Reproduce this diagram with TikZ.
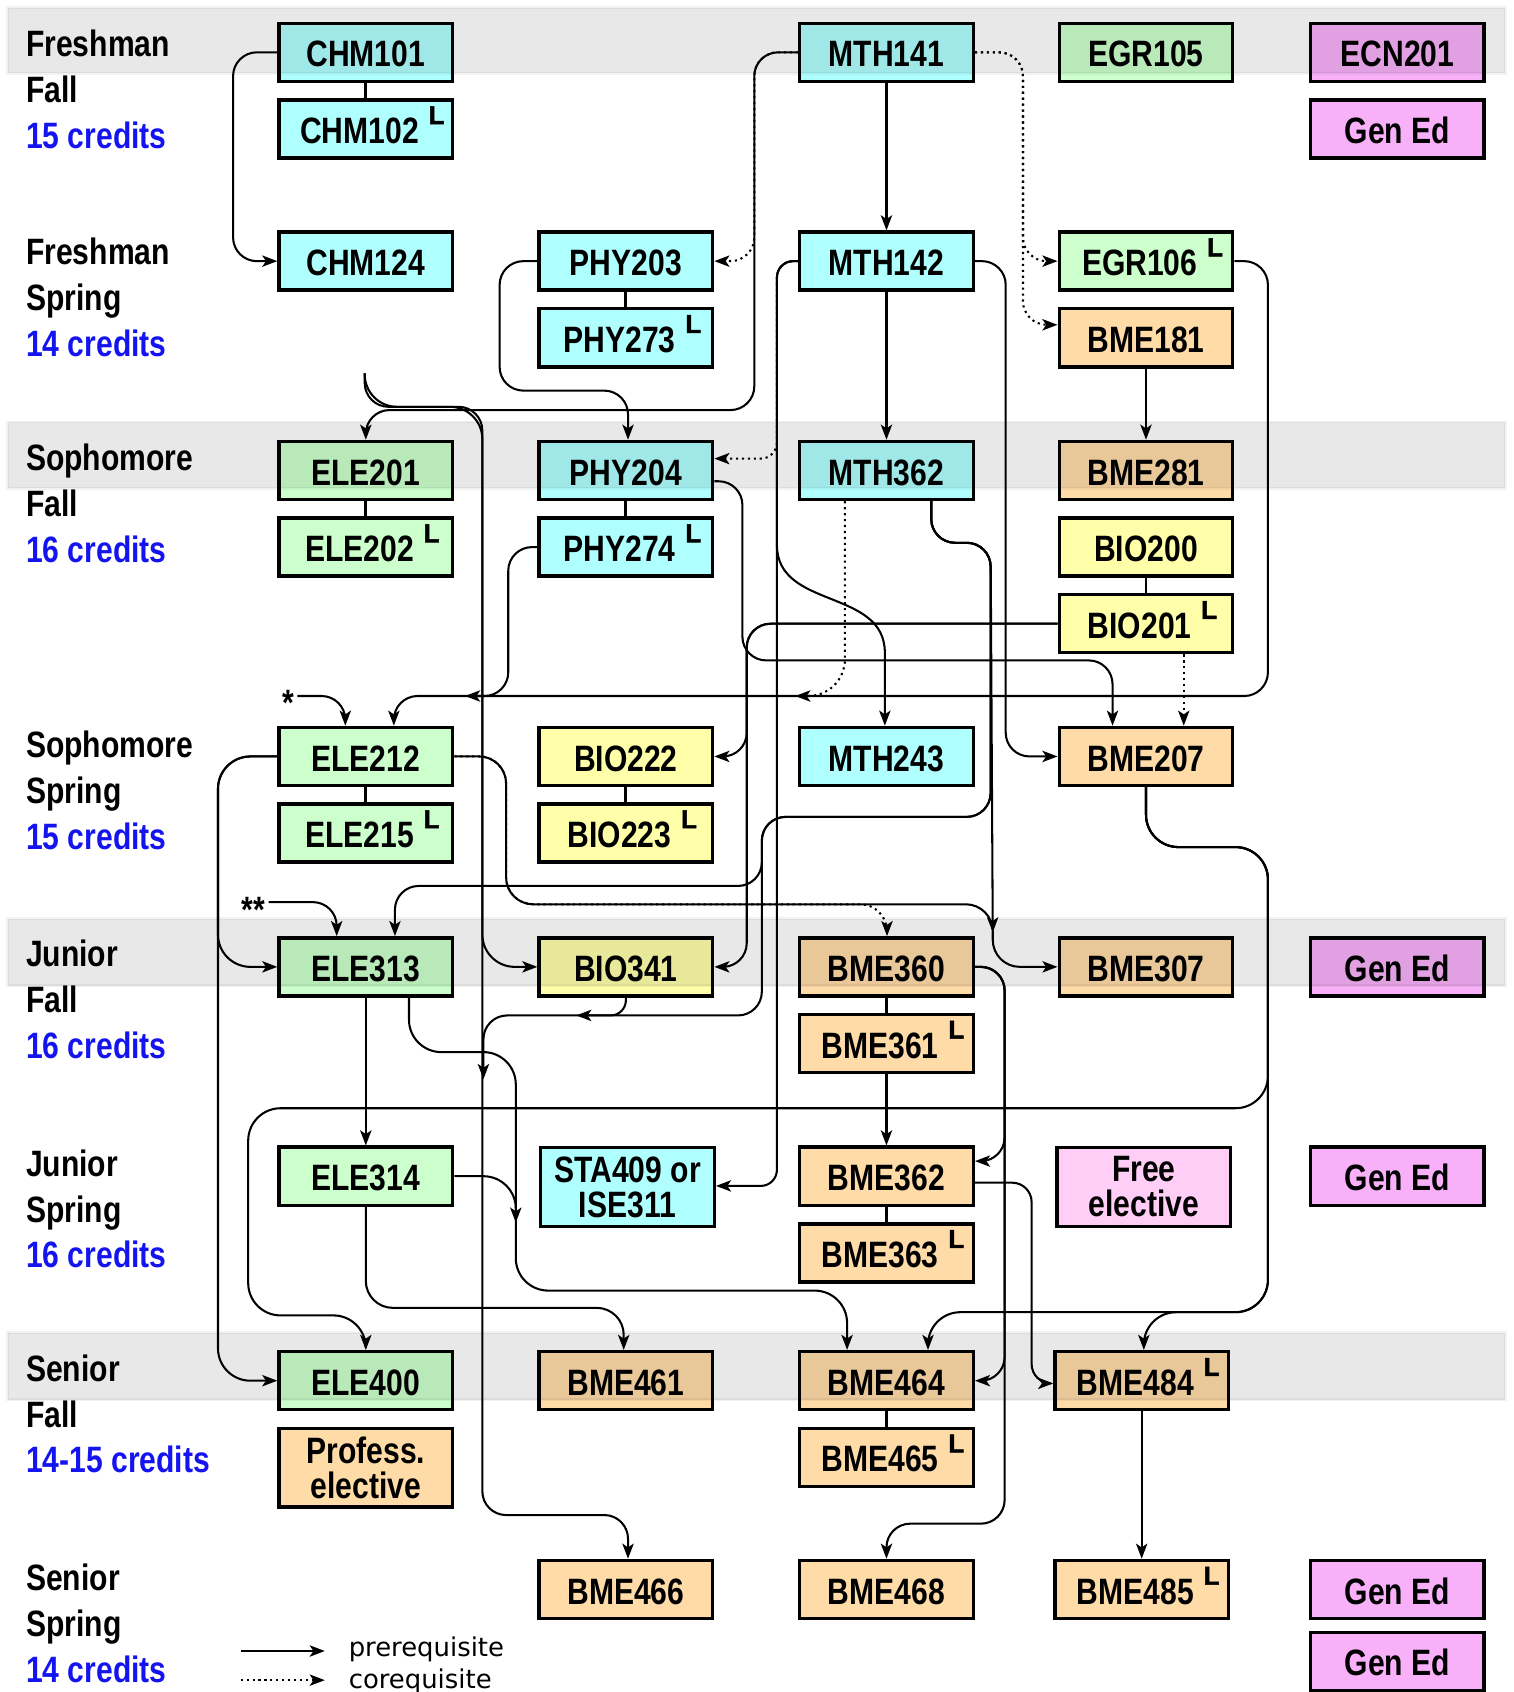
\documentclass[tikz,border=0pt]{standalone}
\usepackage{fontspec}
\setmainfont{Liberation Sans}[FakeStretch=0.82]
\newfontfamily\labfont{Liberation Sans Bold}[FakeBold=2]
\newfontfamily\keyfont{DejaVu Sans}
\usetikzlibrary{positioning}
\usetikzlibrary{arrows.meta}
\definecolor{boxcyan}{HTML}{B0FFFF}
\definecolor{boxgreen}{HTML}{CCFFCC}
\definecolor{boxyellow}{HTML}{FFFFAA}
\definecolor{boxorange}{HTML}{FFDBA8}
\definecolor{boxpink}{HTML}{F8B0F8}
\definecolor{boxfree}{HTML}{FFCEF6}
\definecolor{credit}{HTML}{1414F0}
\newcommand{\coursefont}{\fontsize{34}{32.5}\selectfont\bfseries}
\newcommand{\semfont}{\fontsize{34}{42.5}\selectfont\bfseries}
\newcommand{\labL}[1]{\hspace{12pt}#1\hspace{9pt}\raisebox{18pt}{\labfont\fontsize{24}{24}\selectfont L}}
\tikzset{
  coursebase/.style = {draw, line width=3.2pt, minimum width=160.8pt,
    inner sep=0pt, font=\coursefont},
  course/.style = {coursebase, minimum height=53.8pt,
    text height=27pt, text depth=0pt},
  twoline/.style = {coursebase, minimum height=72.8pt, align=center},
  cyanfill/.style = {fill=boxcyan},
  greenfill/.style = {fill=boxgreen},
  yellowfill/.style = {fill=boxyellow},
  orangefill/.style = {fill=boxorange},
  pinkfill/.style = {fill=boxpink},
  freefill/.style = {fill=boxfree},
  joinline/.style = {line width=1.9pt, rounded corners=22pt},
  prereq/.style = {joinline, ->},
  coreq/.style = {prereq, dash pattern=on 2pt off 3.5pt},
  pair/.style = {line width=2.6pt},
  band/.style = {fill=black, fill opacity=0.09, draw=black,
    draw opacity=0.05, line width=2.5pt},
  sem/.style = {anchor=base west, inner sep=0pt, font=\semfont},
  starlabel/.style = {anchor=base, inner sep=3pt, font=\semfont},
  legendtext/.style = {anchor=base west, inner sep=0pt,
    font=\keyfont\fontsize{24}{24}\selectfont}
}
\tikzset{>={Stealth[length=14pt,width=10.5pt,inset=3.5pt]}}

\begin{document}
\begin{tikzpicture}[x=1pt,y=-1pt]
  \useasboundingbox (0,0) rectangle (1403,1568);
  \pgfmathsetmacro{\colA}{339}
  \pgfmathsetmacro{\colB}{580}
  \pgfmathsetmacro{\colC}{821.5}
  \pgfmathsetmacro{\colD}{1062}
  \pgfmathsetmacro{\colE}{1295}
  \pgfmathsetmacro{\rowA}{48.5}
  \pgfmathsetmacro{\rowB}{242}
  \pgfmathsetmacro{\rowC}{436}
  \pgfmathsetmacro{\rowD}{701}
  \pgfmathsetmacro{\rowE}{896}
  \pgfmathsetmacro{\rowF}{1090}
  \pgfmathsetmacro{\rowG}{1279.5}
  \pgfmathsetmacro{\rowH}{1473}
  % semester labels
  \node[sem] (t1) at (24,52.5) {\begin{tabular}[t]{@{}l@{}}Freshman\\Fall\\\textcolor{credit}{15 credits}\end{tabular}};
  \node[sem] (t2) at (24,245.5) {\begin{tabular}[t]{@{}l@{}}Freshman\\Spring\\\textcolor{credit}{14 credits}\end{tabular}};
  \node[sem] (t3) at (24,436) {\begin{tabular}[t]{@{}l@{}}Sophomore\\Fall\\\textcolor{credit}{16 credits}\end{tabular}};
  \node[sem] (t4) at (24,702) {\begin{tabular}[t]{@{}l@{}}Sophomore\\Spring\\\textcolor{credit}{15 credits}\end{tabular}};
  \node[sem] (t5) at (24,896) {\begin{tabular}[t]{@{}l@{}}Junior\\Fall\\\textcolor{credit}{16 credits}\end{tabular}};
  \node[sem] (t6) at (24,1090) {\begin{tabular}[t]{@{}l@{}}Junior\\Spring\\\textcolor{credit}{16 credits}\end{tabular}};
  \node[sem] (t7) at (24,1280) {\begin{tabular}[t]{@{}l@{}}Senior\\Fall\\\textcolor{credit}{14-15 credits}\end{tabular}};
  \node[sem] (t8) at (24,1474) {\begin{tabular}[t]{@{}l@{}}Senior\\Spring\\\textcolor{credit}{14 credits}\end{tabular}};
  % freshman fall
  \node[course, cyanfill] (chm101) at (\colA,\rowA) {CHM101};
  \node[course, cyanfill, below=14pt of chm101] (chm102) {\labL{CHM102}};
  \node[course, cyanfill] (mth141) at (\colC,\rowA) {MTH141};
  \node[course, greenfill] (egr105) at (\colD,\rowA) {EGR105};
  \node[course, pinkfill] (ecn201) at (\colE,\rowA) {ECN201};
  \node[course, pinkfill, below=14pt of ecn201] (gened1) {Gen Ed};
  % freshman spring
  \node[course, cyanfill] (chm124) at (\colA,\rowB) {CHM124};
  \node[course, cyanfill] (phy203) at (\colB,\rowB) {PHY203};
  \node[course, cyanfill, below=14pt of phy203] (phy273) {\labL{PHY273}};
  \node[course, cyanfill] (mth142) at (\colC,\rowB) {MTH142};
  \node[course, greenfill] (egr106) at (\colD,\rowB) {\labL{EGR106}};
  \node[course, orangefill, below=14pt of egr106] (bme181) {BME181};
  % sophomore fall
  \node[course, greenfill] (ele201) at (\colA,\rowC) {ELE201};
  \node[course, greenfill, below=14pt of ele201] (ele202) {\labL{ELE202}};
  \node[course, cyanfill] (phy204) at (\colB,\rowC) {PHY204};
  \node[course, cyanfill, below=14pt of phy204] (phy274) {\labL{PHY274}};
  \node[course, cyanfill] (mth362) at (\colC,\rowC) {MTH362};
  \node[course, orangefill] (bme281) at (\colD,\rowC) {BME281};
  \node[course, yellowfill, below=14pt of bme281] (bio200) {BIO200};
  \node[course, yellowfill, below=14pt of bio200] (bio201) {\labL{BIO201}};
  % sophomore spring
  \node[course, greenfill] (ele212) at (\colA,\rowD) {ELE212};
  \node[course, greenfill, below=14pt of ele212] (ele215) {\labL{ELE215}};
  \node[course, yellowfill] (bio222) at (\colB,\rowD) {BIO222};
  \node[course, yellowfill, below=14pt of bio222] (bio223) {\labL{BIO223}};
  \node[course, cyanfill] (mth243) at (\colC,\rowD) {MTH243};
  \node[course, orangefill] (bme207) at (\colD,\rowD) {BME207};
  % junior fall
  \node[course, greenfill] (ele313) at (\colA,\rowE) {ELE313};
  \node[course, yellowfill] (bio341) at (\colB,\rowE) {BIO341};
  \node[course, orangefill] (bme360) at (\colC,\rowE) {BME360};
  \node[course, orangefill, below=14pt of bme360] (bme361) {\labL{BME361}};
  \node[course, orangefill] (bme307) at (\colD,\rowE) {BME307};
  \node[course, pinkfill] (gened2) at (\colE,\rowE) {Gen Ed};
  % junior spring
  \node[course, greenfill] (ele314) at (\colA,\rowF) {ELE314};
  \node[twoline, cyanfill] (sta409) at (581.5,1100) {STA409 or\\ISE311};
  \node[course, orangefill] (bme362) at (\colC,\rowF) {BME362};
  \node[course, orangefill, below=14pt of bme362] (bme363) {\labL{BME363}};
  \node[twoline, freefill] (free) at (1060,1100) {Free\\elective};
  \node[course, pinkfill] (gened3) at (\colE,\rowF) {Gen Ed};
  % senior fall
  \node[course, greenfill] (ele400) at (\colA,\rowG) {ELE400};
  \node[twoline, orangefill, below=14pt of ele400] (prof) {Profess.\\elective};
  \node[course, orangefill] (bme461) at (\colB,\rowG) {BME461};
  \node[course, orangefill] (bme464) at (\colC,\rowG) {BME464};
  \node[course, orangefill, below=14pt of bme464] (bme465) {\labL{BME465}};
  \node[course, orangefill] (bme484) at (1058,\rowG) {\labL{BME484}};
  % senior spring
  \node[course, orangefill] (bme466) at (\colB,\rowH) {BME466};
  \node[course, orangefill] (bme468) at (\colC,\rowH) {BME468};
  \node[course, orangefill] (bme485) at (1058,\rowH) {\labL{BME485}};
  \node[course, pinkfill] (gened4) at (\colE,\rowH) {Gen Ed};
  \node[course, pinkfill, below=9.5pt of gened4] (gened5) {Gen Ed};
  % lecture and lab
  \draw[pair] (chm101.south) -- (chm102.north);
  \draw[pair] (phy203.south) -- (phy273.north);
  \draw[pair] (ele201.south) -- (ele202.north);
  \draw[pair] (phy204.south) -- (phy274.north);
  \draw[pair] (bio200.south) -- (bio201.north);
  \draw[pair] (ele212.south) -- (ele215.north);
  \draw[pair] (bio222.south) -- (bio223.north);
  \draw[pair] (bme360.south) -- (bme361.north);
  \draw[pair] (bme362.south) -- (bme363.north);
  \draw[pair] (bme464.south) -- (bme465.north);
  % merge points
  \coordinate (stub) at (338,346);
  \coordinate (j212) at (431,645);
  \coordinate (j362) at (737,645);
  \coordinate (j307) at (920,864);
  \coordinate (j341) at (534,941);
  \coordinate (j466) at (448,1000);
  \coordinate (j464) at (478,1133);
  % chemistry and math
  \draw[prereq] (chm101.west) -- (216,\rowA) -- (216,\rowB) -- (chm124.west);
  \draw[prereq] (mth141) -- (mth142);
  \draw[prereq] (mth142) -- (mth362);
  \draw[prereq] (mth141.west) -- (699,\rowA) -- (699,380) -- (\colA,380) -- (ele201.north);
  \draw[coreq] (mth141.west) -- (699,\rowA) -- (699,\rowB) -- (phy203.east);
  \draw[coreq] (mth141.east) -- (948,\rowA) -- (948,\rowB) -- (egr106.west);
  \draw[coreq] (mth141.east) -- (948,\rowA) -- (948,301) -- (bme181.west |- 0,301);
  \draw[coreq, rounded corners=15pt] (mth142.west) -- (720,\rowB) -- (720,425) -- (phy204.east |- 0,425);
  \draw[prereq, rounded corners=15pt] (mth142.west) -- (720,\rowB) -- (720,1099) -- (sta409.east |- 0,1099);
  \draw[prereq, rounded corners=15pt] (mth142.west) -- (720,\rowB) -- (720,490)
    .. controls (720,565) and (820,545) .. (820,620) -- (mth243.north -| 820,0);
  \draw[prereq] (mth142.east) -- (932,\rowB) -- (932,\rowD) -- (bme207.west);
  % physics
  \draw[prereq] (phy203.west) -- (463,\rowB) -- (463,362) -- (582,362) -- (phy204.north -| 582,0);
  \draw[prereq] (phy204.east |- 0,446) -- (688,446) -- (688,612) -- (1031,612) -- (bme207.north -| 1031,0);
  \draw[joinline] (phy274.west) -- (phy274.west -| 471,0) -- (471,645) -- (j212);
  \draw[prereq] (stub) -- (338,377) -- (447,377) -- (447,1404) -- (582,1404) -- (bme466.north -| 582,0);
  \draw[prereq, rounded corners=30pt] (stub) -- (338,377) -- (447,377) -- (447,\rowE) -- (bio341.west);
  % into ELE212 and ELE313
  \draw[prereq] (egr106.east) -- (1175,\rowB) -- (1175,645) -- (j212);
  \draw[prereq] (j212) -- (365,645) -- (ele212.north -| 365,0);
  \node[starlabel] (star1) at (267,663) {*};
  \draw[prereq] (star1.east |- 0,645) -- (320,645) -- (ele212.north -| 320,0);
  \node[starlabel] (star2) at (235,855) {**};
  \draw[prereq] (star2.east |- 0,836) -- (312,836) -- (ele313.north -| 312,0);
  \draw[coreq, rounded corners=34pt] (mth362.south -| 783,0) -- (783,645) -- (j362);
  \draw[prereq] (mth362.south -| 863,0) -- (863,503) -- (918,503) -- (j307);
  \draw[prereq] (mth362.south -| 863,0) -- (863,503) -- (918,503) -- (918,757) -- (706,757) -- (706,941) -- (j341);
  \draw[prereq] (mth362.south -| 863,0) -- (863,503) -- (918,503) -- (918,757) -- (706,757) -- (706,821) -- (366,821) -- (ele313.north -| 366,0);
  \draw[joinline, rounded corners=14pt] (bio341.south) -- (580,941) -- (j341);
  \draw[prereq] (j341) -- (448,941) -- (j466);
  % biology
  \draw[prereq] (bio201.west) -- (bio201.west -| 692,0) -- (692,\rowD) -- (bio222.east);
  \draw[prereq] (bio201.west) -- (bio201.west -| 692,0) -- (692,\rowE) -- (bio341.east);
  \draw[coreq] (bio201.south -| 1097,0) -- (bme207.north -| 1097,0);
  % electrical
  \draw[prereq, rounded corners=30pt] (ele212.west) -- (202,\rowD) -- (202,\rowE) -- (ele313.west);
  \draw[prereq, rounded corners=30pt] (ele212.west) -- (202,\rowD) -- (202,\rowG) -- (ele400.west);
  \draw[prereq, rounded corners=25pt] (ele212.east) -- (469,\rowD) -- (469,838) -- (920,838) -- (920,\rowE) -- (bme307.west);
  \draw[coreq, rounded corners=25pt] (ele212.east) -- (469,\rowD) -- (469,838) -- (822,838) -- (bme360.north -| 822,0);
  \draw[prereq] (ele313) -- (ele314);
  \draw[prereq, rounded corners=30pt] (ele313.south -| 379,0) -- (379,975) -- (478,975) -- (j464);
  \draw[prereq, rounded corners=30pt] (ele314.east) -- (478,\rowF) -- (478,1196) -- (785,1196) -- (bme464.north -| 785,0);
  \draw[prereq, rounded corners=25pt] (ele314.south) -- (\colA,1212) -- (578,1212) -- (bme461.north -| 578,0);
  % biomedical
  \draw[prereq] (bme181) -- (bme281);
  \draw[prereq, rounded corners=30pt] (bme207.south) -- (\colD,785) -- (1175,785) -- (1175,1027) -- (230,1027) -- (230,1219) -- (\colA,1219) -- (ele400.north);
  \draw[prereq, rounded corners=30pt] (bme207.south) -- (\colD,785) -- (1175,785) -- (1175,1216) -- (860,1216) -- (bme464.north -| 860,0);
  \draw[prereq, rounded corners=30pt] (bme207.south) -- (\colD,785) -- (1175,785) -- (1175,1216) -- (1060,1216) -- (bme484.north -| 1060,0);
  \draw[prereq] (bme360.east) -- (931,\rowE) -- (931,1076) -- (bme362.east |- 0,1076);
  \draw[prereq] (bme360.east) -- (931,\rowE) -- (931,\rowG) -- (bme464.east);
  \draw[prereq] (bme360.east) -- (931,\rowE) -- (931,1412) -- (\colC,1412) -- (bme468.north);
  \draw[prereq] (bme361) -- (bme362);
  \draw[prereq, rounded corners=18pt] (bme362.east |- 0,1096) -- (956,1096) -- (956,1282) -- (bme484.west |- 0,1282);
  \draw[prereq] (bme484) -- (bme485);
  % legend
  \coordinate (k1) at (223,1530);
  \coordinate (k2) at (301,1530);
  \coordinate (k3) at (223,1557);
  \coordinate (k4) at (301,1557);
  \draw[prereq] (k1) -- (k2);
  \draw[coreq] (k3) -- (k4);
  \node[legendtext] (kpre) at (323,1535) {prerequisite};
  \node[legendtext] (kco) at (323,1565) {corequisite};
  % fall bands
  \draw[band] (7,7) rectangle (1395,68);
  \draw[band] (7,391) rectangle (1395,452.5);
  \draw[band] (7,851.5) rectangle (1395,913.5);
  \draw[band] (7,1235) rectangle (1395,1297);
\end{tikzpicture}
\end{document}
